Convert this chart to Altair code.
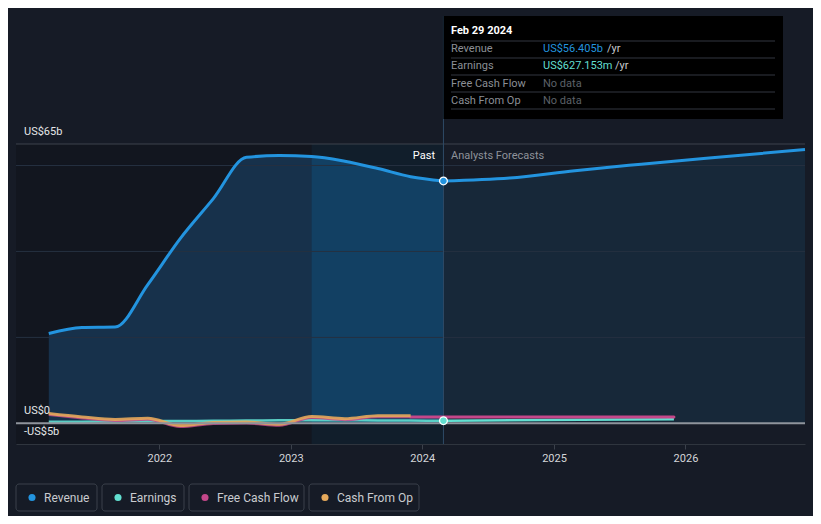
import altair as alt
import pandas as pd

# ---------------- data ----------------
past_dates = ["2021-02-28", "2021-05-31", "2021-08-31", "2021-11-30", "2022-02-28",
              "2022-05-31", "2022-08-31", "2022-11-30", "2023-02-28", "2023-05-31",
              "2023-08-31", "2023-11-30", "2024-02-29"]
revenue_past = [20.9, 22.3, 22.4, 32.3, 43.0, 52.3, 61.9, 62.3, 62.1, 61.0, 59.3, 57.4, 56.405]

fc_rev_dates = ["2024-02-29", "2024-08-31", "2025-02-28", "2025-08-31", "2026-02-28", "2026-11-29"]
revenue_fc = [56.405, 57.1, 58.8, 60.3, 61.7, 63.7]

earnings_past = [0.35, 0.4, 0.45, 0.5, 0.55, 0.6, 0.65, 0.7, 0.75, 0.72, 0.68, 0.65, 0.627]
fc_earn_dates = ["2024-02-29", "2024-11-30", "2025-11-30"]
earnings_fc = [0.627, 0.8, 0.95]

cash_dates = past_dates[:-1]
fcf_past = [2.0, 1.2, 0.6, 0.9, -0.8, -0.1, 0.0, -0.5, 1.3, 0.8, 1.5, 1.5]
fc_fcf_dates = ["2023-11-30", "2024-11-30", "2025-11-30"]
fcf_fc = [1.5, 1.5, 1.5]
cfo_past = [2.3, 1.5, 0.9, 1.2, -0.5, 0.2, 0.3, -0.2, 1.6, 1.1, 1.8, 1.8]

year_ticks = [2022, 2023, 2024, 2025, 2026]
grid_values = [20, 40, 60]

legend_names = ["Revenue", "Earnings", "Free Cash Flow", "Cash From Op"]

# ---------------- style ----------------
BG = "#161b26"
REV = "#2394df"
EARN = "#62dfd0"
FCF = "#c4478a"
CFO = "#e6a95b"
FONT = "Roboto"

W, H = 789, 300

x_scale = alt.Scale(domain=[alt.DateTime(year=2020, month=11, date=29),
                            alt.DateTime(year=2026, month=11, date=29)])
y_scale = alt.Scale(domain=[-4.8, 65], nice=False, zero=False)
x_axis = alt.Axis(values=[alt.DateTime(year=y, month=1, date=1) for y in year_ticks],
                  format="%Y", title=None, grid=False, labelColor="#d4d6d9",
                  labelFontSize=11, labelFont=FONT, labelPadding=3,
                  tickColor="#3b414b", tickSize=5, domainColor="#2f353e")

def X(field="date"):
    return alt.X(f"{field}:T", scale=x_scale, axis=x_axis)

def Y(field="v"):
    return alt.Y(f"{field}:Q", scale=y_scale, axis=None)

def df(dates, vals):
    return pd.DataFrame({"date": dates, "v": vals})

rev_past_df = df(past_dates, revenue_past)
rev_fc_df = df(fc_rev_dates, revenue_fc)
band_df = df(past_dates[8:], revenue_past[8:])

layers = []

# darker past background
layers.append(alt.Chart(pd.DataFrame({"s": ["2020-11-29"], "e": ["2024-02-29"]})).mark_rect(
    color="#12161f").encode(x=X("s"), x2="e:T", y=alt.value(0), y2=alt.value(H)))

# revenue areas
layers.append(alt.Chart(rev_past_df).mark_area(interpolate="monotone", color="#17314b").encode(
    x=X(), y=Y(), y2=alt.datum(0)))
layers.append(alt.Chart(rev_fc_df).mark_area(interpolate="monotone", color="#172839").encode(
    x=X(), y=Y(), y2=alt.datum(0)))

# highlighted last-year band
layers.append(alt.Chart(pd.DataFrame({"s": ["2023-02-28"], "e": ["2024-02-29"]})).mark_rect(
    color="#0b6aa5", opacity=0.09).encode(x=X("s"), x2="e:T", y=alt.value(0), y2=alt.value(H)))
layers.append(alt.Chart(band_df).mark_area(interpolate="monotone", color="#0b6aa5", opacity=0.2).encode(
    x=X(), y=Y(), y2=alt.datum(0)))

# gridlines
layers.append(alt.Chart(pd.DataFrame({"g": grid_values})).mark_rule(color="#253040", strokeWidth=1).encode(
    y=alt.Y("g:Q", scale=y_scale, axis=None)))
layers.append(alt.Chart(pd.DataFrame({"g": [65]})).mark_rule(color="#3d434d", strokeWidth=1).encode(
    y=alt.Y("g:Q", scale=y_scale, axis=None)))

# vertical "today" line
layers.append(alt.Chart(pd.DataFrame({"d": ["2024-02-29"]})).mark_rule(color="#2e4b66", strokeWidth=1).encode(
    x=X("d"), y=alt.value(-128), y2=alt.value(H)))

# small series
layers.append(alt.Chart(df(past_dates, earnings_past)).mark_line(interpolate="monotone", color=EARN, strokeWidth=2.5, opacity=0.9).encode(x=X(), y=Y()))
layers.append(alt.Chart(df(fc_earn_dates, earnings_fc)).mark_line(interpolate="monotone", color=EARN, strokeWidth=2.5).encode(x=X(), y=Y()))
layers.append(alt.Chart(df(cash_dates, fcf_past)).mark_line(interpolate="monotone", color=FCF, strokeWidth=2.5, opacity=0.85).encode(x=X(), y=Y()))
layers.append(alt.Chart(df(fc_fcf_dates, fcf_fc)).mark_line(interpolate="monotone", color=FCF, strokeWidth=3, strokeCap="round").encode(x=X(), y=Y()))
layers.append(alt.Chart(df(cash_dates, cfo_past)).mark_line(interpolate="monotone", color=CFO, strokeWidth=3, opacity=0.9).encode(x=X(), y=Y()))

# zero line
layers.append(alt.Chart(pd.DataFrame({"g": [0]})).mark_rule(color="#8f949c", strokeWidth=2).encode(
    y=alt.Y("g:Q", scale=y_scale, axis=None)))

# revenue line
layers.append(alt.Chart(rev_past_df).mark_line(interpolate="monotone", color=REV, strokeWidth=3).encode(x=X(), y=Y()))
layers.append(alt.Chart(rev_fc_df).mark_line(interpolate="monotone", color=REV, strokeWidth=3).encode(x=X(), y=Y()))

# highlighted points
layers.append(alt.Chart(df(["2024-02-29"], [revenue_past[-1]])).mark_circle(
    size=60, color=REV, opacity=1, stroke="white", strokeWidth=1.2).encode(x=X(), y=Y()))
layers.append(alt.Chart(df(["2024-02-29"], [earnings_past[-1]])).mark_circle(
    size=60, color=EARN, opacity=1, stroke="white", strokeWidth=1.2).encode(x=X(), y=Y()))

def txt(s, x, y, color="#d8dadd", size=11, align="left", weight="normal"):
    return alt.Chart(pd.DataFrame({"t": [s]})).mark_text(
        align=align, baseline="middle", font=FONT, fontSize=size, color=color,
        fontWeight=weight).encode(x=alt.value(x), y=alt.value(y), text="t:N")

# y labels
layers.append(txt("US$65b", 8, -12, "#e4e6e8"))
layers.append(txt("US$0", 8, 267, "#e4e6e8"))
layers.append(txt("-US$5b", 8, 288, "#e4e6e8"))

# past / forecast
layers.append(txt("Past", 419, 12, "#ffffff", align="right"))
layers.append(txt("Analysts Forecasts", 435, 12, "#8e929a"))

# tooltip box
layers.append(alt.Chart(pd.DataFrame({"d": ["2024-02-29"]})).mark_rect(color="#000000").encode(
    x=X("d"), x2=alt.value(767), y=alt.value(-128), y2=alt.value(-25)))
for ry in [-103, -86, -69, -52, -35]:
    layers.append(alt.Chart(pd.DataFrame({"a": [0]})).mark_rule(color="#333740", strokeWidth=1).encode(
        x=alt.value(435), x2=alt.value(759), y=alt.value(ry)))
layers.append(txt("Feb 29 2024", 435, -113, "#ffffff", weight="bold"))
rows_y = [-95, -78, -60, -43]
for name, ry in zip(legend_names, rows_y):
    layers.append(txt(name, 435, ry, "#8b8f96"))
layers.append(txt("US$56.405b", 527, -95, REV))
layers.append(txt("/yr", 591, -95, "#c8cace"))
layers.append(txt("US$627.153m", 527, -78, EARN))
layers.append(txt("/yr", 599, -78, "#c8cace"))
layers.append(txt("No data", 527, -60, "#5c6068"))
layers.append(txt("No data", 527, -43, "#5c6068"))

# legend
leg_boxes = [(0, 81), (86, 168), (173, 288), (293, 403)]
leg_colors = [REV, EARN, FCF, CFO]
for (x0, x1), name, col in zip(leg_boxes, legend_names, leg_colors):
    layers.append(alt.Chart(pd.DataFrame({"a": [0]})).mark_rect(
        fillOpacity=0, stroke="#3a404a", strokeWidth=1, cornerRadius=3).encode(
        x=alt.value(x0), x2=alt.value(x1), y=alt.value(340), y2=alt.value(367)))
    layers.append(alt.Chart(pd.DataFrame({"a": [0]})).mark_circle(size=50, color=col, opacity=1).encode(
        x=alt.value(x0 + 16), y=alt.value(353.5)))
    layers.append(txt(name, x0 + 28, 353.5, "#c9cbcf", size=12))

chart = alt.layer(*layers).properties(
    width=W, height=H,
    padding={"left": 8, "top": 136, "right": 8, "bottom": 72},
    autosize=alt.AutoSizeParams(type="none"),
    background=BG,
).configure_view(stroke=None)

chart.save("out.html", embed_options={"renderer": "svg", "actions": False})
